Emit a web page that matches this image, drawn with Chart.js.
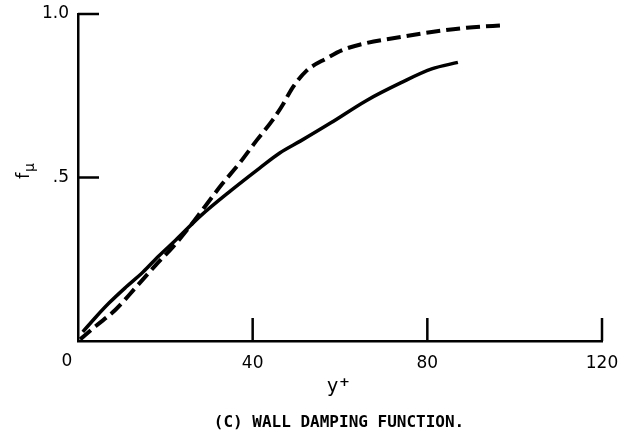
<!DOCTYPE html>
<html>
<head>
<meta charset="utf-8">
<script src="https://cdn.jsdelivr.net/npm/chart.js@4.4.0/dist/chart.umd.min.js"></script>
<style>
  html, body { margin: 0; padding: 0; background: #fff; }
  #wrap { width: 636px; height: 436px; }
</style>
</head>
<body>
<div id="wrap"><canvas id="chart" width="636" height="436"></canvas></div>
<script>
// y+ values and f_mu values
const solidX = [1.1, 4, 7.1, 11, 14.9, 18.5, 22.4, 28, 35, 41.6, 46.2, 51, 58, 66, 74, 81, 87];
const solidY = [0.028, 0.072, 0.116, 0.165, 0.211, 0.26, 0.309, 0.382, 0.46, 0.529, 0.575, 0.612, 0.668, 0.735, 0.79, 0.832, 0.852];

const dashX = [0.5, 4, 8.7, 13.3, 17.8, 21.7, 25, 29, 33, 37, 41, 44.6, 47, 49, 52.3, 57, 60.6, 66, 74, 81, 89, 98];
const dashY = [0.005, 0.045, 0.097, 0.165, 0.232, 0.287, 0.34, 0.41, 0.48, 0.544, 0.615, 0.676, 0.725, 0.772, 0.826, 0.865, 0.89, 0.911, 0.93, 0.945, 0.958, 0.966];

const xTicks = [0, 40, 80, 120];
const yTicks = [0.5, 1.0];
const yTickLabels = ['.5', '1.0'];
const caption = '(C) WALL DAMPING FUNCTION.';

const toPoints = (xs, ys) => xs.map((x, i) => ({ x: x, y: ys[i] }));

// inward tick marks, origin label, axis titles and caption
const extras = {
  id: 'extras',
  afterDraw(chart) {
    const ctx = chart.ctx;
    const xs = chart.scales.x, ys = chart.scales.y;
    const x0 = xs.getPixelForValue(0), y0 = ys.getPixelForValue(0);
    ctx.save();
    ctx.strokeStyle = '#000';
    ctx.lineWidth = 2.5;
    ctx.beginPath();
    xTicks.slice(1).forEach(v => {
      const px = xs.getPixelForValue(v);
      ctx.moveTo(px, y0);
      ctx.lineTo(px, y0 - 23);
    });
    yTicks.forEach(v => {
      const py = ys.getPixelForValue(v);
      ctx.moveTo(x0, py);
      ctx.lineTo(x0 + 21, py);
    });
    ctx.stroke();

    ctx.fillStyle = '#000';
    ctx.font = '17px "DejaVu Sans"';
    ctx.textAlign = 'center';
    ctx.textBaseline = 'alphabetic';
    ctx.fillText('0', x0 - 11, y0 + 25);

    // x title: y+
    ctx.textAlign = 'left';
    ctx.font = '19px "DejaVu Sans"';
    ctx.fillText('y', 327, 392);
    ctx.font = 'bold 13px "DejaVu Sans"';
    ctx.fillText('+', 339, 386);

    // y title: f mu, rotated
    ctx.save();
    ctx.translate(29, 179);
    ctx.rotate(-Math.PI / 2);
    ctx.font = '18px "DejaVu Sans"';
    ctx.fillText('f', 0, 0);
    ctx.font = '14px "DejaVu Sans"';
    ctx.fillText('\u03bc', 7, 5);
    ctx.restore();

    // caption
    ctx.font = 'bold 16px "DejaVu Sans Mono"';
    ctx.textAlign = 'center';
    ctx.fillText(caption, 339, 427);
    ctx.restore();
  }
};

new Chart(document.getElementById('chart'), {
  type: 'line',
  data: {
    datasets: [
      {
        data: toPoints(solidX, solidY),
        borderColor: '#000',
        borderWidth: 3.5,
        pointRadius: 0,
        cubicInterpolationMode: 'monotone',
        fill: false
      },
      {
        data: toPoints(dashX, dashY),
        borderColor: '#000',
        borderWidth: 4,
        borderDash: [14, 6],
        pointRadius: 0,
        cubicInterpolationMode: 'monotone',
        fill: false
      }
    ]
  },
  options: {
    responsive: false,
    animation: false,
    devicePixelRatio: 1,
    layout: { padding: { left: 0, top: 14, right: 34, bottom: 0 } },
    plugins: { legend: { display: false }, tooltip: { enabled: false }, title: { display: false } },
    scales: {
      x: {
        type: 'linear',
        min: 0,
        max: 120,
        afterFit: s => { s.height = 95; },
        afterBuildTicks: s => { s.ticks = xTicks.map(v => ({ value: v })); },
        grid: { display: false },
        border: { display: true, color: '#000', width: 2.5 },
        ticks: {
          color: '#000',
          font: { family: 'DejaVu Sans', size: 17 },
          padding: 4,
          maxRotation: 0,
          callback: v => (v === 0 ? '' : String(v))
        }
      },
      y: {
        type: 'linear',
        min: 0,
        max: 1,
        afterFit: s => { s.width = 78; },
        afterBuildTicks: s => { s.ticks = yTicks.map(v => ({ value: v })); },
        grid: { display: false },
        border: { display: true, color: '#000', width: 2.5 },
        ticks: {
          color: '#000',
          font: { family: 'DejaVu Sans', size: 17 },
          padding: 1,
          callback: v => yTickLabels[yTicks.indexOf(v)]
        }
      }
    }
  },
  plugins: [extras]
});
</script>
</body>
</html>
